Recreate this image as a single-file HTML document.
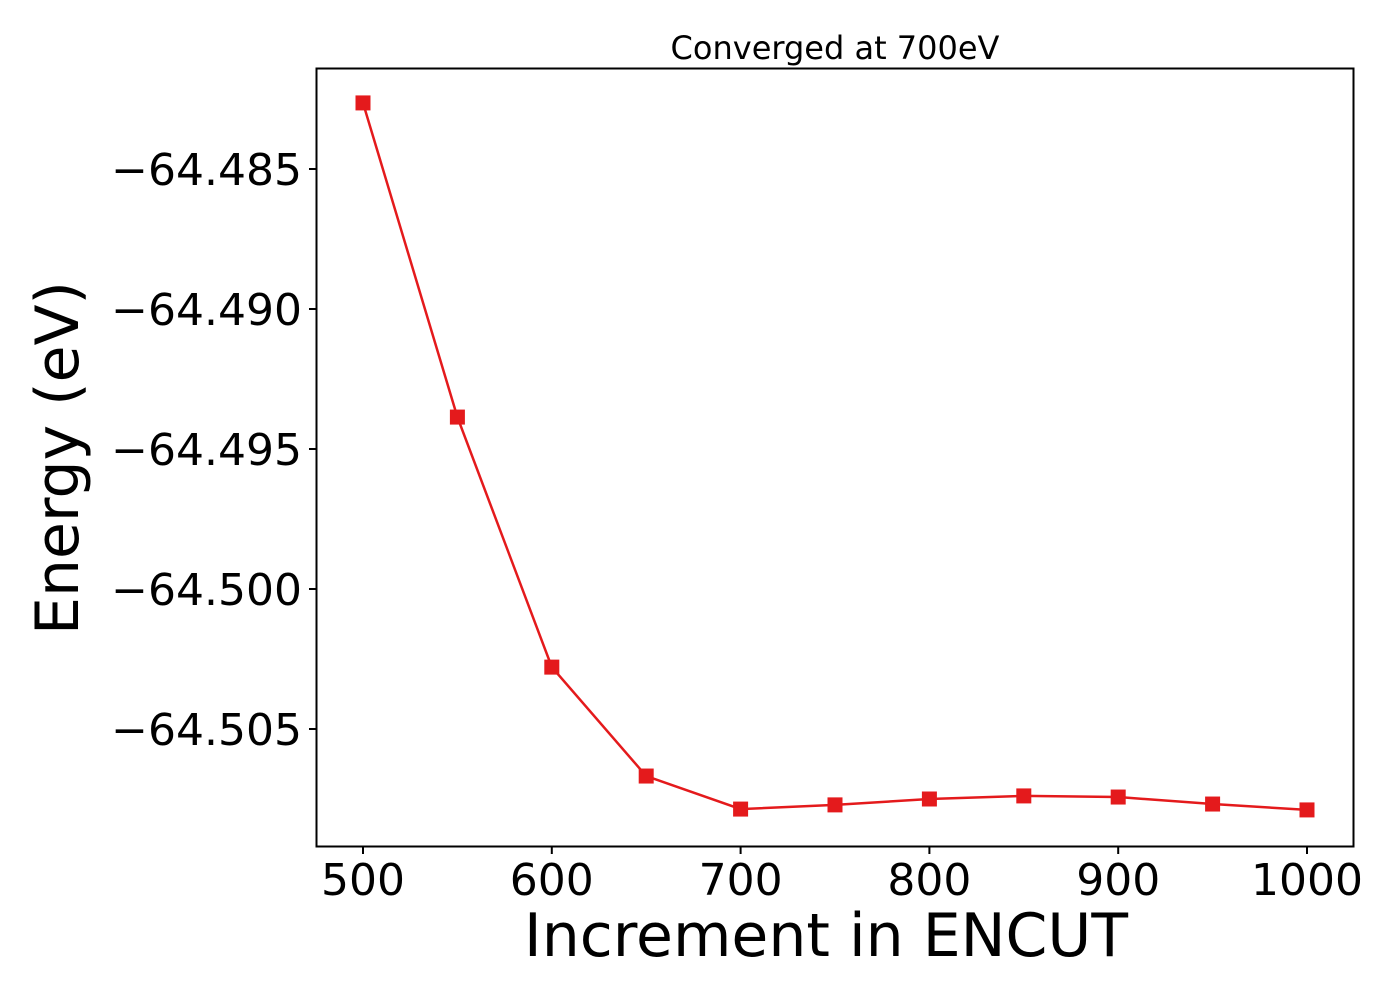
<!DOCTYPE html>
<html><head><meta charset="utf-8"><style>body{margin:0;background:#fff}svg{font-family:"DejaVu Sans","Liberation Sans",sans-serif}</style></head>
<body>
<svg width="1400" height="1000">
<text x="835" y="59" font-size="32" text-anchor="middle">Converged at 700eV</text>
<g id="plot"></g>
<rect x="316.5" y="68.5" width="1037" height="778" fill="none" stroke="#000" stroke-width="2"/>
<text x="826" y="956" font-size="60" text-anchor="middle">Increment in ENCUT</text>
<text transform="translate(78,458) rotate(-90)" font-size="60" text-anchor="middle">Energy (eV)</text>
</svg>
<script>
const xs=[500,550,600,650,700,750,800,850,900,950,1000];
const ys=[-64.48264,-64.49386,-64.50279,-64.50668,-64.50786,-64.50771,-64.5075,-64.50739,-64.50743,-64.50768,-64.50789];
const xTicks=[500,600,700,800,900,1000];
const yTicks=[-64.485,-64.490,-64.495,-64.500,-64.505];
const yTickLabels=["\u221264.485","\u221264.490","\u221264.495","\u221264.500","\u221264.505"];
const NS="http://www.w3.org/2000/svg";
function X(v){return 363+(v-500)*1.888;}
function Y(v){return 169+(-64.485-v)*28000;}
const g=document.getElementById('plot');
function mk(t,a){const e=document.createElementNS(NS,t);for(const k in a)e.setAttribute(k,a[k]);g.appendChild(e);return e;}
xTicks.forEach(v=>{
 const l=mk('line',{x1:X(v),x2:X(v),y1:847,y2:854,stroke:'#000','stroke-width':2});
 
 
 const t=mk('text',{x:X(v),y:895,'font-size':44,'text-anchor':'middle'});t.textContent=v;
 
 
});
yTicks.forEach((v,i)=>{
 const l=mk('line',{x1:309,x2:316,y1:Y(v),y2:Y(v),stroke:'#000','stroke-width':2});
 
 
 const t=mk('text',{x:302,y:Y(v)+16,'font-size':44,'text-anchor':'end'});t.textContent=yTickLabels[i];
 
 
});
const pl=mk('polyline',{points:xs.map((x,i)=>X(x)+','+Y(ys[i])).join(' '),fill:'none',stroke:'#e41a1c','stroke-width':2.5});


xs.forEach((x,i)=>{
 const r=mk('rect',{x:X(x)-7.5,y:Y(ys[i])-7.5,width:15,height:15,fill:'#e41a1c'});
 
 
});
</script>
</body></html>
